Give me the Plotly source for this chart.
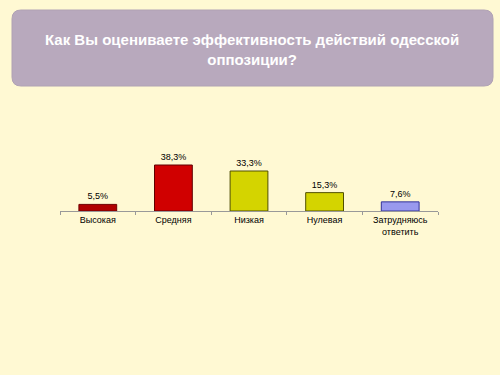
import plotly.graph_objects as go

categories = ["Высокая", "Средняя", "Низкая", "Нулевая", "Затрудняюсь<br>ответить"]
values = [5.5, 38.3, 33.3, 15.3, 7.6]
labels = ["5,5%", "38,3%", "33,3%", "15,3%", "7,6%"]
colors = ["#B00000", "#D00000", "#D4D400", "#D4D400", "#9999EE"]
line_colors = ["#700000", "#600000", "#505000", "#505000", "#333399"]

# plot area in pixels: left 60, width 378, baseline 211, height 61
PL, PW, PB, PH = 60, 378, 211, 61


def px(x):
    return (x - PL) / PW


def py(y):
    return (PB - y) / PH


fig = go.Figure()
fig.add_trace(go.Bar(
    x=categories, y=values, text=labels, textposition="outside",
    textfont=dict(family="Arial", size=9, color="#000000"),
    marker=dict(color=colors, line=dict(color=line_colors, width=1)),
    width=0.5, cliponaxis=False,
))

fig.update_layout(
    width=500, height=375,
    paper_bgcolor="#FFF9D3", plot_bgcolor="#FFF9D3",
    margin=dict(l=PL, r=500 - PL - PW, t=PB - PH, b=375 - PB),
    showlegend=False,
    xaxis=dict(showline=True, linecolor="#999999", linewidth=1,
               ticks="outside", tickson="boundaries", ticklen=3, tickcolor="#999999",
               tickfont=dict(family="Arial", size=9, color="#000000")),
    yaxis=dict(visible=False, range=[0, 50.8]),
)

# rounded title box
x0, x1, y0, y1, r = 12, 493, 10, 86, 9
path = (f"M {px(x0 + r)},{py(y0)} L {px(x1 - r)},{py(y0)} "
        f"Q {px(x1)},{py(y0)} {px(x1)},{py(y0 + r)} "
        f"L {px(x1)},{py(y1 - r)} Q {px(x1)},{py(y1)} {px(x1 - r)},{py(y1)} "
        f"L {px(x0 + r)},{py(y1)} Q {px(x0)},{py(y1)} {px(x0)},{py(y1 - r)} "
        f"L {px(x0)},{py(y0 + r)} Q {px(x0)},{py(y0)} {px(x0 + r)},{py(y0)} Z")
fig.add_shape(type="path", xref="paper", yref="paper", path=path,
              fillcolor="#B8A9BD", line=dict(color="#B0A2B4", width=1), layer="below")
fig.add_annotation(xref="paper", yref="paper",
                   x=px(252), y=py(49), xanchor="center", yanchor="middle",
                   text="<b>Как Вы оцениваете эффективность действий одесской<br>оппозиции?</b>",
                   showarrow=False, font=dict(family="Arial", size=15, color="#FFFFFF"),
                   align="center")

fig.write_html("out.html")
